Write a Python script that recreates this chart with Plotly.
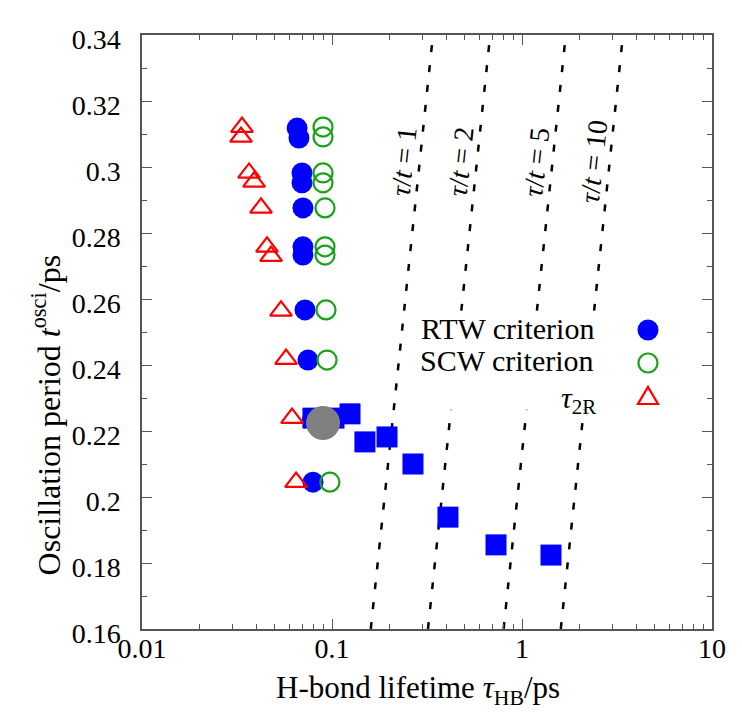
import numpy as np
import plotly.graph_objects as go

# ---------------- data ----------------
# RTW criterion (blue filled circles)
rtw_tau = [0.0655, 0.0670, 0.0695, 0.0695, 0.0703, 0.0703, 0.0703, 0.0721, 0.0747, 0.0790, 0.0794]
rtw_t   = [0.3118, 0.3088, 0.2982, 0.2952, 0.2876, 0.2758, 0.2733, 0.2567, 0.2415, 0.2236, 0.2045]
# SCW criterion (green open circles)
scw_tau = [0.0897, 0.0897, 0.0897, 0.0897, 0.0919, 0.0919, 0.0919, 0.0930, 0.0942, 0.0960, 0.0975]
scw_t   = [0.3121, 0.3091, 0.2982, 0.2952, 0.2876, 0.2758, 0.2733, 0.2567, 0.2415, 0.2233, 0.2045]
# tau_2R (red open triangles)
t2r_tau = [0.0336, 0.0332, 0.0366, 0.0389, 0.0423, 0.0455, 0.0478, 0.0539, 0.0573, 0.0616, 0.0647]
t2r_t   = [0.3121, 0.3091, 0.2982, 0.2955, 0.2876, 0.2758, 0.2730, 0.2564, 0.2418, 0.2239, 0.2045]
# blue squares
sq_tau = [0.0794, 0.1024, 0.1244, 0.1490, 0.1948, 0.2668, 0.4077, 0.7297, 1.421]
sq_t   = [0.2239, 0.2239, 0.2252, 0.2167, 0.2182, 0.2100, 0.1939, 0.1855, 0.1824]
# grey point
grey_tau = [0.0897]
grey_t   = [0.2224]
# reference lines tau/t = k
ratios = [1, 2, 5, 10]
t_span = [0.16, 0.34]
t_label = 0.3015

# axis ticks
x_tickvals = [0.01, 0.1, 1, 10]
x_ticktext = ["0.01", "0.1", "1", "10"]
y_tickvals = [0.16, 0.18, 0.20, 0.22, 0.24, 0.26, 0.28, 0.30, 0.32, 0.34]
y_ticktext = ["0.16", "0.18", "0.2", "0.22", "0.24", "0.26", "0.28", "0.3", "0.32", "0.34"]
y_minor = [0.17, 0.19, 0.21, 0.23, 0.25, 0.27, 0.29, 0.31, 0.33]
x_minor = [m * d for d in (0.01, 0.1, 1) for m in range(2, 10)]

legend_labels = ["RTW criterion", "SCW criterion", "<i>τ</i><sub>2R</sub>"]
x_title = "H-bond lifetime <i>τ</i><sub>HB</sub>/ps"
y_title = "Oscillation period <i>t</i><sup>osci</sup>/ps"

FONT = "Liberation Serif"
BLUE = "#0000ff"
GREEN = "#1aa31a"
RED = "#ff0000"
GREY = "#808080"

fig = go.Figure()

for k in ratios:
    fig.add_trace(go.Scatter(
        x=[k * t for t in t_span], y=t_span, mode="lines",
        line=dict(color="black", width=2.5, dash="7px,13px"),
        showlegend=False, hoverinfo="skip"))

fig.add_trace(go.Scatter(x=sq_tau, y=sq_t, mode="markers",
    marker=dict(symbol="square", size=21, color=BLUE, line=dict(width=0)),
    showlegend=False))
fig.add_trace(go.Scatter(x=rtw_tau, y=rtw_t, mode="markers",
    marker=dict(symbol="circle", size=21, color=BLUE, line=dict(width=0)),
    showlegend=False))
fig.add_trace(go.Scatter(x=scw_tau, y=scw_t, mode="markers",
    marker=dict(symbol="circle-open", size=19, color=GREEN, line=dict(width=2.2, color=GREEN)),
    showlegend=False))
fig.add_trace(go.Scatter(x=t2r_tau, y=t2r_t, mode="markers",
    marker=dict(symbol="triangle-up-open", size=19, color=RED, line=dict(width=2.2, color=RED)),
    showlegend=False))
fig.add_trace(go.Scatter(x=grey_tau, y=grey_t, mode="markers",
    marker=dict(symbol="circle", size=34, color=GREY, line=dict(width=0)),
    showlegend=False))

annotations = []
for k in ratios:
    annotations.append(dict(
        x=np.log10(k * t_label), y=t_label, xref="x", yref="y",
        text=f"<i>τ</i>/<i>t</i> = {k}", showarrow=False, textangle=-84,
        xshift=-20, font=dict(family=FONT, size=28, color="black")))

# axis titles as centred annotations
annotations.append(dict(x=0.485, y=-0.103, xref="paper", yref="paper", text=x_title,
                        showarrow=False, xanchor="center", yanchor="middle",
                        font=dict(family=FONT, size=31, color="black")))
annotations.append(dict(x=-0.168, y=0.36, xref="paper", yref="paper", text=y_title,
                        showarrow=False, xanchor="center", yanchor="middle", textangle=-90,
                        font=dict(family=FONT, size=32, color="black")))

# custom legend (text left, symbol right)
shapes = [dict(type="rect", xref="paper", yref="paper", x0=0.474, x1=0.979,
               y0=0.369, y1=0.534, fillcolor="white", line=dict(width=0), layer="above")]
leg_y = [0.5051, 0.4512, 0.3855]
sym_y = [0.5034, 0.4478, 0.3906]
leg_x = [0.6412, 0.6412, 0.7658]
sym_x = 0.8877
for lab, xx, yy in zip(legend_labels, leg_x, leg_y):
    annotations.append(dict(x=xx, y=yy, xref="paper", yref="paper", text=lab,
                            showarrow=False, xanchor="center", yanchor="middle",
                            font=dict(family=FONT, size=30, color="black")))
shapes.append(dict(type="circle", xref="paper", yref="paper", xsizemode="pixel", ysizemode="pixel",
                   xanchor=sym_x, yanchor=sym_y[0], x0=-10.5, x1=10.5, y0=-10.5, y1=10.5,
                   fillcolor=BLUE, line=dict(width=0), layer="above"))
shapes.append(dict(type="circle", xref="paper", yref="paper", xsizemode="pixel", ysizemode="pixel",
                   xanchor=sym_x, yanchor=sym_y[1], x0=-9.5, x1=9.5, y0=-9.5, y1=9.5,
                   fillcolor="rgba(0,0,0,0)", line=dict(width=2.2, color=GREEN), layer="above"))
shapes.append(dict(type="path", xref="paper", yref="paper", xsizemode="pixel", ysizemode="pixel",
                   xanchor=sym_x, yanchor=sym_y[2], path="M -10,-7 L 10,-7 L 0,10 Z",
                   fillcolor="rgba(0,0,0,0)", line=dict(width=2.2, color=RED), layer="above"))

axis_common = dict(showline=True, linecolor="#555555", linewidth=1.5, mirror="ticks",
                   ticks="inside", tickcolor="#555555", tickwidth=1.2, ticklen=10,
                   showgrid=False, zeroline=False,
                   tickfont=dict(family=FONT, size=28, color="black"))

fig.update_layout(
    width=742, height=716,
    margin=dict(l=142, r=30, t=35, b=87),
    plot_bgcolor="white", paper_bgcolor="white",
    font=dict(family=FONT, color="black"),
    xaxis=dict(type="log", range=[-2, 1], tickvals=x_tickvals, ticktext=x_ticktext,
               minor=dict(tickvals=x_minor, ticks="inside", ticklen=5, tickcolor="#555555", tickwidth=1.2),
               ticklabelstandoff=-6,
               **axis_common),
    yaxis=dict(range=[0.16, 0.34], tickvals=y_tickvals, ticktext=y_ticktext,
               minor=dict(tickvals=y_minor, ticks="inside", ticklen=5, tickcolor="#555555", tickwidth=1.2),
               ticklabelstandoff=14, ticklabelshift=4,
               **axis_common),
    annotations=annotations,
    shapes=shapes,
)

fig.write_html("out.html")
